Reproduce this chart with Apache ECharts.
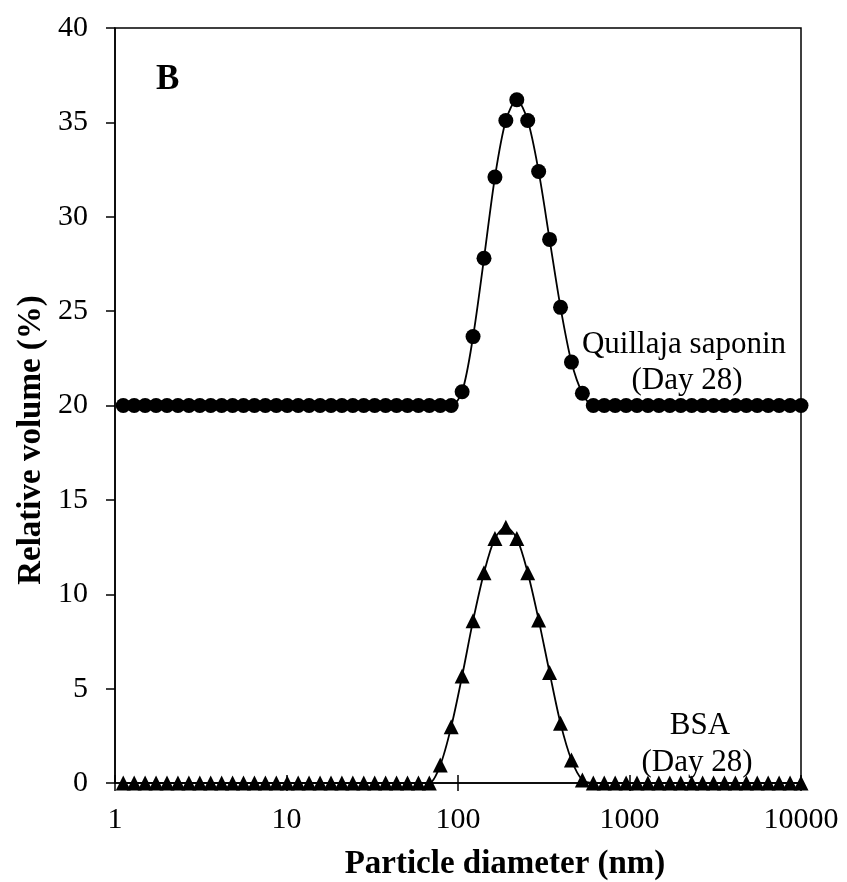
<!DOCTYPE html>
<html>
<head>
<meta charset="utf-8">
<script src="https://cdn.jsdelivr.net/npm/echarts@6/dist/echarts.min.js"></script>
<style>html,body{margin:0;padding:0;background:#fff}#c{width:847px;height:882px}</style>
</head>
<body>
<div id="c"></div>
<script>
// Particle diameter size classes (nm)
var diameters = [1.117, 1.294, 1.499, 1.736, 2.010, 2.328, 2.696, 3.122, 3.615, 4.187, 4.849, 5.615, 6.503, 7.531, 8.721,
  10.10, 11.70, 13.54, 15.69, 18.17, 21.04, 24.36, 28.21, 32.67, 37.84, 43.82, 50.75, 58.77, 68.06, 78.82, 91.28,
  105.7, 122.4, 141.8, 164.2, 190.1, 220.2, 255.0, 295.3, 342.0, 396.1, 458.7, 531.2, 615.1, 712.4, 825.0, 955.4,
  1106, 1281, 1484, 1718, 1990, 2305, 2669, 3091, 3580, 4145, 4801, 5560, 6439, 7456, 8635, 10000];
// Quillaja saponin (Day 28), plotted with +20 offset as in the figure
var quillaja = [20,20,20,20,20,20,20,20,20,20,20,20,20,20,20,
  20,20,20,20,20,20,20,20,20,20,20,20,20,20,20,20,
  20.73,23.65,27.8,32.1,35.1,36.2,35.1,32.4,28.8,25.2,22.3,20.65,20,20,20,20,
  20,20,20,20,20,20,20,20,20,20,20,20,20,20,20,20];
// BSA (Day 28)
var bsa = [0,0,0,0,0,0,0,0,0,0,0,0,0,0,0,
  0,0,0,0,0,0,0,0,0,0,0,0,0,0,0.95,2.98,
  5.67,8.6,11.14,12.96,13.55,12.96,11.14,8.64,5.85,3.16,1.22,0.16,0,0,0,0,
  0,0,0,0,0,0,0,0,0,0,0,0,0,0,0,0];
var yTicks = [0, 5, 10, 15, 20, 25, 30, 35, 40];
var xTicks = [1, 10, 100, 1000, 10000];

function pairs(ys){ return diameters.map(function(x,i){ return [x, ys[i]]; }); }

var FONT = '"Liberation Serif", "Times New Roman", serif';
var chart = echarts.init(document.getElementById('c'));
var axisLineStyle = {color:'#000', width:1.5};
chart.setOption({
  animation:false,
  backgroundColor:'#fff',
  grid:{left:115, right:46, top:28, bottom:99, show:true, borderColor:'#000', borderWidth:1.5, backgroundColor:'transparent'},
  xAxis:[{
    type:'log', logBase:10, min:1, max:10000,
    axisLine:{lineStyle:axisLineStyle},
    axisTick:{show:true, inside:false, length:8, lineStyle:axisLineStyle},
    minorTick:{show:false},
    splitLine:{show:false},
    axisLabel:{fontFamily:FONT, fontSize:30, color:'#000', margin:22,
      formatter:function(v){ var r = Math.round(v); return xTicks.indexOf(r) >= 0 ? String(r) : ''; }}
  },{
    type:'log', logBase:10, min:1, max:10000, position:'bottom',
    axisLine:{show:false},
    axisTick:{show:true, inside:true, length:8, lineStyle:axisLineStyle},
    axisLabel:{show:false}, splitLine:{show:false}
  }],
  yAxis:{
    type:'value', min:0, max:40, interval:5,
    axisLine:{show:true, lineStyle:axisLineStyle},
    axisTick:{show:true, inside:false, length:9, lineStyle:axisLineStyle},
    splitLine:{show:false},
    axisLabel:{fontFamily:FONT, fontSize:30, color:'#000', margin:27,
      formatter:function(v){ return yTicks.indexOf(v) >= 0 ? String(v) : ''; }}
  },
  series:[{
    name:'Quillaja saponin (Day 28)', type:'line', data:pairs(quillaja), smooth:0.3,
    symbol:'circle', symbolSize:15,
    itemStyle:{color:'#000'}, lineStyle:{color:'#000', width:1.8}
  },{
    name:'BSA (Day 28)', type:'line', data:pairs(bsa), smooth:0.3,
    symbol:'triangle', symbolSize:15,
    itemStyle:{color:'#000'}, lineStyle:{color:'#000', width:1.8}
  }],
  graphic:[
    {type:'text', x:505, y:864, style:{text:'Particle diameter (nm)', font:'bold 33px ' + FONT, fill:'#000', align:'center', verticalAlign:'middle'}},
    {type:'text', x:31, y:440, rotation:Math.PI/2, style:{text:'Relative volume (%)', font:'bold 33px ' + FONT, fill:'#000', align:'center', verticalAlign:'middle'}},
    {type:'text', x:156, y:80, style:{text:'B', font:'bold 35px ' + FONT, fill:'#000', align:'left', verticalAlign:'middle'}},
    {type:'text', x:684, y:345, style:{text:'Quillaja saponin', font:'31px ' + FONT, fill:'#000', align:'center', verticalAlign:'middle'}},
    {type:'text', x:687, y:381, style:{text:'(Day 28)', font:'31px ' + FONT, fill:'#000', align:'center', verticalAlign:'middle'}},
    {type:'text', x:700, y:726, style:{text:'BSA', font:'31px ' + FONT, fill:'#000', align:'center', verticalAlign:'middle'}},
    {type:'text', x:697, y:763, style:{text:'(Day 28)', font:'31px ' + FONT, fill:'#000', align:'center', verticalAlign:'middle'}}
  ]
});
</script>
</body>
</html>
